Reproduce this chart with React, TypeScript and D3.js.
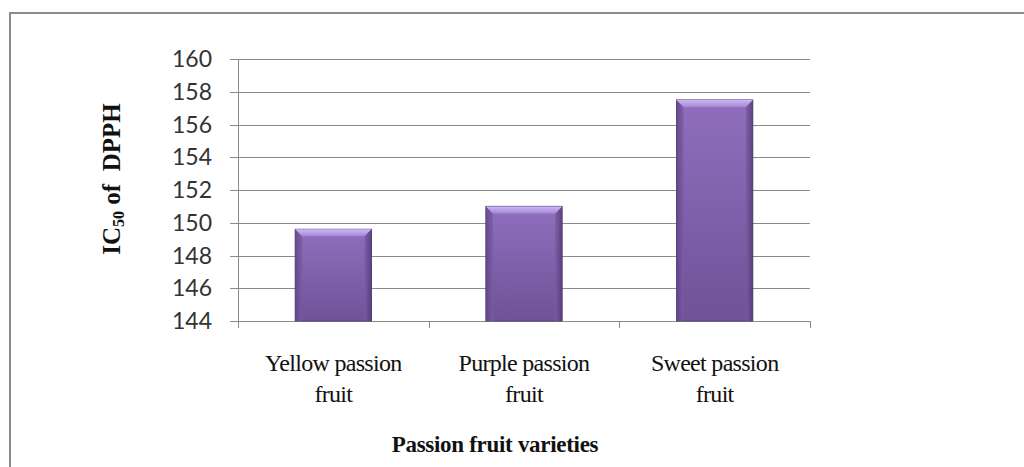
import React, { useEffect, useRef } from "react"
import * as d3 from "d3"

const varieties = ["Yellow passion fruit", "Purple passion fruit", "Sweet passion fruit"]
const labelLines = [["Yellow passion", "fruit"], ["Purple passion", "fruit"], ["Sweet passion", "fruit"]]
const ic50 = [149.6, 151.0, 157.5]
const yTicks = [144, 146, 148, 150, 152, 154, 156, 158, 160]

const App = () => {
    const ref = useRef<SVGSVGElement>(null)

    useEffect(() => {
        const svg = d3.select(ref.current)
        svg.selectAll("*").remove()

        const width = 1024
        const height = 467
        const plot = { left: 238, right: 810, top: 59, bottom: 321 }

        const x = d3.scaleBand()
            .domain(varieties)
            .range([plot.left, plot.right])
            .paddingInner(0.6)
            .paddingOuter(0.3)
        const y = d3.scaleLinear()
            .domain([144, 160])
            .range([plot.bottom, plot.top])

        // gradients for the bevelled bars
        const defs = svg.append("defs")
        const body = defs.append("linearGradient").attr("id", "barBody")
            .attr("x1", 0).attr("y1", 0).attr("x2", 0).attr("y2", 1)
        body.append("stop").attr("offset", "0%").attr("stop-color", "#8f6fbe")
        body.append("stop").attr("offset", "100%").attr("stop-color", "#6f5297")
        const side = defs.append("linearGradient").attr("id", "barSide")
            .attr("x1", 0).attr("y1", 0).attr("x2", 1).attr("y2", 0)
        side.append("stop").attr("offset", "0%").attr("stop-color", "#5c437f")
        side.append("stop").attr("offset", "100%").attr("stop-color", "#7a5ca6")
        const sideR = defs.append("linearGradient").attr("id", "barSideR")
            .attr("x1", 0).attr("y1", 0).attr("x2", 1).attr("y2", 0)
        sideR.append("stop").attr("offset", "0%").attr("stop-color", "#7a5ca6")
        sideR.append("stop").attr("offset", "100%").attr("stop-color", "#4f3970")
        const top = defs.append("linearGradient").attr("id", "barTop")
            .attr("x1", 0).attr("y1", 0).attr("x2", 0).attr("y2", 1)
        top.append("stop").attr("offset", "0%").attr("stop-color", "#cdb8f5")
        top.append("stop").attr("offset", "100%").attr("stop-color", "#a488d6")

        // outer frame
        svg.append("rect")
            .attr("x", 10).attr("y", 13)
            .attr("width", width).attr("height", height)
            .attr("fill", "#fff")
            .attr("stroke", "#8c8c8c")
            .attr("stroke-width", 2)

        // gridlines
        svg.append("g")
            .selectAll("line")
            .data(yTicks)
            .join("line")
            .attr("x1", plot.left - 8)
            .attr("x2", plot.right)
            .attr("y1", d => Math.round(y(d)) + 0.5)
            .attr("y2", d => Math.round(y(d)) + 0.5)
            .attr("stroke", "#8a8a8a")
            .attr("stroke-width", 1)

        // y axis line
        svg.append("line")
            .attr("x1", plot.left + 0.5).attr("x2", plot.left + 0.5)
            .attr("y1", plot.top).attr("y2", plot.bottom)
            .attr("stroke", "#8a8a8a")

        // y tick labels
        svg.append("g")
            .selectAll("text")
            .data(yTicks)
            .join("text")
            .attr("x", 212)
            .attr("y", d => y(d))
            .attr("dy", "0.35em")
            .attr("text-anchor", "end")
            .attr("font-family", "Lato, 'Open Sans', sans-serif")
            .attr("font-size", 23)
            .attr("fill", "#333")
            .text(d => d)

        // category tick marks
        const edges = [plot.left, ...varieties.map(v => (x(v) as number) + x.bandwidth() / 2 + x.step() / 2)]
        svg.append("g")
            .selectAll("line")
            .data(edges)
            .join("line")
            .attr("x1", d => Math.round(d) + 0.5)
            .attr("x2", d => Math.round(d) + 0.5)
            .attr("y1", plot.bottom)
            .attr("y2", plot.bottom + 7)
            .attr("stroke", "#8a8a8a")

        // bars
        const bev = 7
        const bars = svg.append("g")
            .selectAll("g")
            .data(varieties.map((v, i) => ({ name: v, value: ic50[i] })))
            .join("g")
        bars.append("rect")
            .attr("x", d => x(d.name) as number)
            .attr("y", d => y(d.value))
            .attr("width", x.bandwidth())
            .attr("height", d => plot.bottom - y(d.value))
            .attr("fill", "url(#barBody)")
            .attr("stroke", "#5a4280")
            .attr("stroke-width", 1)
        bars.append("path")
            .attr("d", d => {
                const x0 = x(d.name) as number, y0 = y(d.value)
                return `M${x0},${y0}L${x0 + bev},${y0 + bev}L${x0 + bev},${plot.bottom}L${x0},${plot.bottom}Z`
            })
            .attr("fill", "url(#barSide)")
            .attr("opacity", 0.8)
        bars.append("path")
            .attr("d", d => {
                const x1 = (x(d.name) as number) + x.bandwidth(), y0 = y(d.value)
                return `M${x1},${y0}L${x1 - bev},${y0 + bev}L${x1 - bev},${plot.bottom}L${x1},${plot.bottom}Z`
            })
            .attr("fill", "url(#barSideR)")
            .attr("opacity", 0.8)
        bars.append("path")
            .attr("d", d => {
                const x0 = x(d.name) as number, x1 = x0 + x.bandwidth(), y0 = y(d.value)
                return `M${x0},${y0}L${x1},${y0}L${x1 - bev},${y0 + bev}L${x0 + bev},${y0 + bev}Z`
            })
            .attr("fill", "url(#barTop)")

        // category labels
        const cat = svg.append("g")
            .selectAll("text")
            .data(varieties)
            .join("text")
            .attr("text-anchor", "middle")
            .attr("font-family", "'Liberation Serif', 'Times New Roman', serif")
            .attr("font-size", 24)
            .attr("letter-spacing", -0.7)
            .attr("fill", "#111")
        cat.selectAll("tspan")
            .data((d, i) => labelLines[i].map(l => ({ l, cx: (x(d) as number) + x.bandwidth() / 2 })))
            .join("tspan")
            .attr("x", d => d.cx)
            .attr("y", (d, i) => 371 + i * 31)
            .text(d => d.l)

        // x axis title
        svg.append("text")
            .attr("x", 495)
            .attr("y", 452)
            .attr("text-anchor", "middle")
            .attr("font-family", "'Liberation Serif', 'Times New Roman', serif")
            .attr("font-weight", "bold")
            .attr("font-size", 23)
            .attr("letter-spacing", -0.3)
            .attr("fill", "#111")
            .text("Passion fruit varieties")

        // y axis title with subscript
        const yt = svg.append("text")
            .attr("transform", "translate(120,179) rotate(-90)")
            .attr("text-anchor", "middle")
            .attr("font-family", "'Liberation Serif', 'Times New Roman', serif")
            .attr("font-weight", "bold")
            .attr("font-size", 25)
            .attr("fill", "#111")
        yt.append("tspan").text("IC")
        yt.append("tspan").attr("font-size", 16).attr("dy", 4).text("50")
        yt.append("tspan").attr("dy", -4).attr("xml:space", "preserve").text(" of  DPPH")
    }, [])

    return (
        <svg ref={ref} width={1024} height={467}
            style={{ position: "absolute", left: 0, top: 0, background: "#fff" }} />
    )
}

export default App
